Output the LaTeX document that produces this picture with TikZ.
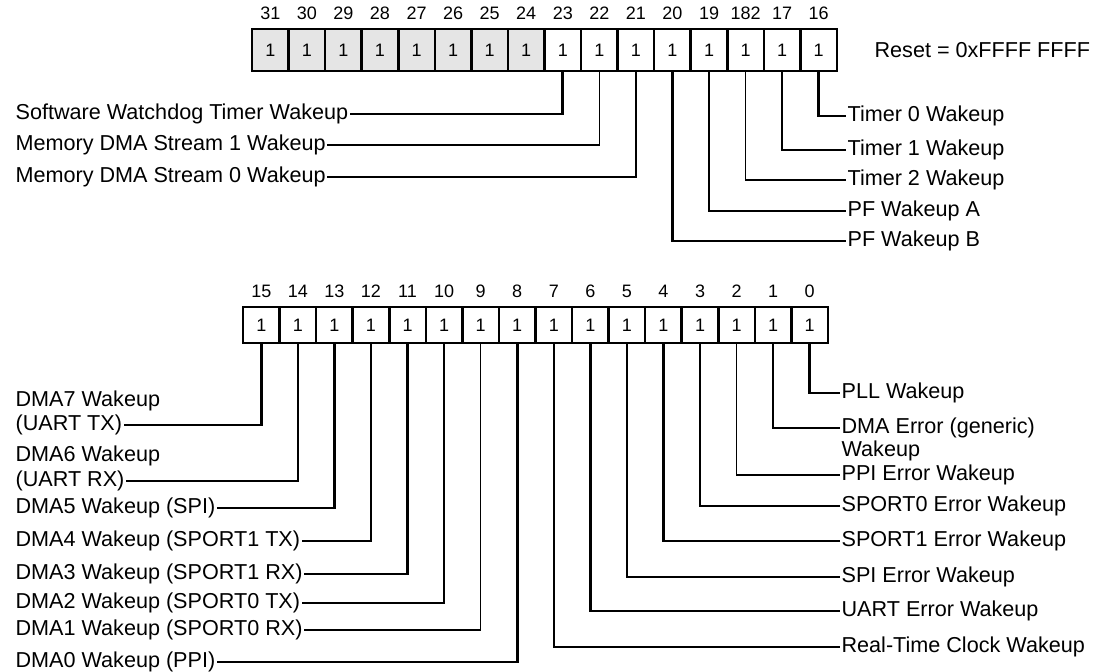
\documentclass[tikz,border=0pt]{standalone}
\usepackage{fontspec}
\setmainfont{Liberation Sans}
\usetikzlibrary{positioning,calc}
\tikzset{
  reg/cell/.style={draw, line width=1.3pt, minimum width=18.28pt, minimum height=21pt, inner sep=0pt, font=\fontsize{9}{10}\selectfont},
  reg/resv/.style={reg/cell, fill=black!10},
  reg/low/.style={reg/cell, minimum height=18pt},
  reg/bitno/.style={font=\fontsize{9}{10}\selectfont, inner sep=0pt},
  reg/lab/.style={font=\fontsize{10.8}{12}\selectfont, inner sep=0.6pt, anchor=west},
  reg/wire/.style={line width=1.3pt}
}
\newcommand{\bitname}[1]{\ifnum#1=18 182\else#1\fi}

\begin{document}
\begin{tikzpicture}[x=0.5pt, y=-0.5pt]
\useasboundingbox (0,0) rectangle (1101,672);
% upper half of the register, bits 31..16
\foreach \b [count=\i from 0] in {31,...,16} {
  \ifnum\b>23 \def\st{reg/resv}\else\def\st{reg/cell}\fi
  \node[\st] (b\b) at (270.3+36.56*\i, 50) {1};
  \node[reg/bitno, above=3.7pt of b\b] (n\b) {\bitname{\b}};
}
\node[reg/lab] (reset) at (873,50) {Reset = 0xFFFF FFFF};
% lower half, bits 15..0
\foreach \b [count=\i from 0] in {15,...,0} {
  \node[reg/low] (b\b) at (261.3+36.56*\i, 325) {1};
  \node[reg/bitno, above=3.7pt of b\b] (n\b) {\b};
}
% labels
\node[reg/lab] (swt) at (14,114) {Software Watchdog Timer Wakeup};
\node[reg/lab] (mdma1) at (14,145) {Memory DMA Stream 1 Wakeup};
\node[reg/lab] (mdma0) at (14,177) {Memory DMA Stream 0 Wakeup};
\node[reg/lab] (tmr0) at (846,116) {Timer 0 Wakeup};
\node[reg/lab] (tmr1) at (846,150) {Timer 1 Wakeup};
\node[reg/lab] (tmr2) at (846,180) {Timer 2 Wakeup};
\node[reg/lab] (pfa) at (846,211) {PF Wakeup A};
\node[reg/lab] (pfb) at (846,241) {PF Wakeup B};

\node[reg/lab] (dma7) at (14,401) {DMA7 Wakeup};
\node[reg/lab] (dma7b) at (14,425) {(UART TX)};
\node[reg/lab] (dma6) at (14,456) {DMA6 Wakeup};
\node[reg/lab] (dma6b) at (14,481) {(UART RX)};
\node[reg/lab] (dma5) at (14,508) {DMA5 Wakeup (SPI)};
\node[reg/lab] (dma4) at (14,541) {DMA4 Wakeup (SPORT1 TX)};
\node[reg/lab] (dma3) at (14,574) {DMA3 Wakeup (SPORT1 RX)};
\node[reg/lab] (dma2) at (14,603) {DMA2 Wakeup (SPORT0 TX)};
\node[reg/lab] (dma1) at (14,630) {DMA1 Wakeup (SPORT0 RX)};
\node[reg/lab] (dma0) at (14,662) {DMA0 Wakeup (PPI)};

\node[reg/lab] (pll) at (840,393) {PLL Wakeup};
\node[reg/lab] (dmaerr) at (840,428) {DMA Error (generic)};
\node[reg/lab] (dmaerrb) at (840,451) {Wakeup};
\node[reg/lab] (ppierr) at (840,475) {PPI Error Wakeup};
\node[reg/lab] (sp0err) at (840,506) {SPORT0 Error Wakeup};
\node[reg/lab] (sp1err) at (840,541) {SPORT1 Error Wakeup};
\node[reg/lab] (spierr) at (840,577) {SPI Error Wakeup};
\node[reg/lab] (uarterr) at (840,611) {UART Error Wakeup};
\node[reg/lab] (rtc) at (840,647) {Real-Time Clock Wakeup};

% connectors: bit -> label
\foreach \b/\n/\w in {23/swt/1.3pt, 22/mdma1/0.7pt, 21/mdma0/0.7pt,
    16/tmr0/1.3pt, 17/tmr1/1.3pt, 18/tmr2/0.7pt, 19/pfa/1.3pt, 20/pfb/1.3pt,
    15/dma7b/1.3pt, 14/dma6b/0.8pt, 13/dma5/1.3pt, 12/dma4/1.3pt,
    11/dma3/1.3pt, 10/dma2/1.3pt, 9/dma1/0.7pt, 8/dma0/1.3pt}
  \draw[reg/wire, line width=\w] (b\b.south) |- (\n);
\foreach \b/\n/\w in {0/pll/1.3pt, 1/dmaerr/1.3pt, 2/ppierr/0.7pt, 3/sp0err/0.7pt,
    4/sp1err/1.3pt, 5/spierr/1.3pt, 6/uarterr/1.3pt, 7/rtc/1.1pt}
  \draw[reg/wire, line width=\w] (b\b.south) |- (\n.west);
\end{tikzpicture}
\end{document}
